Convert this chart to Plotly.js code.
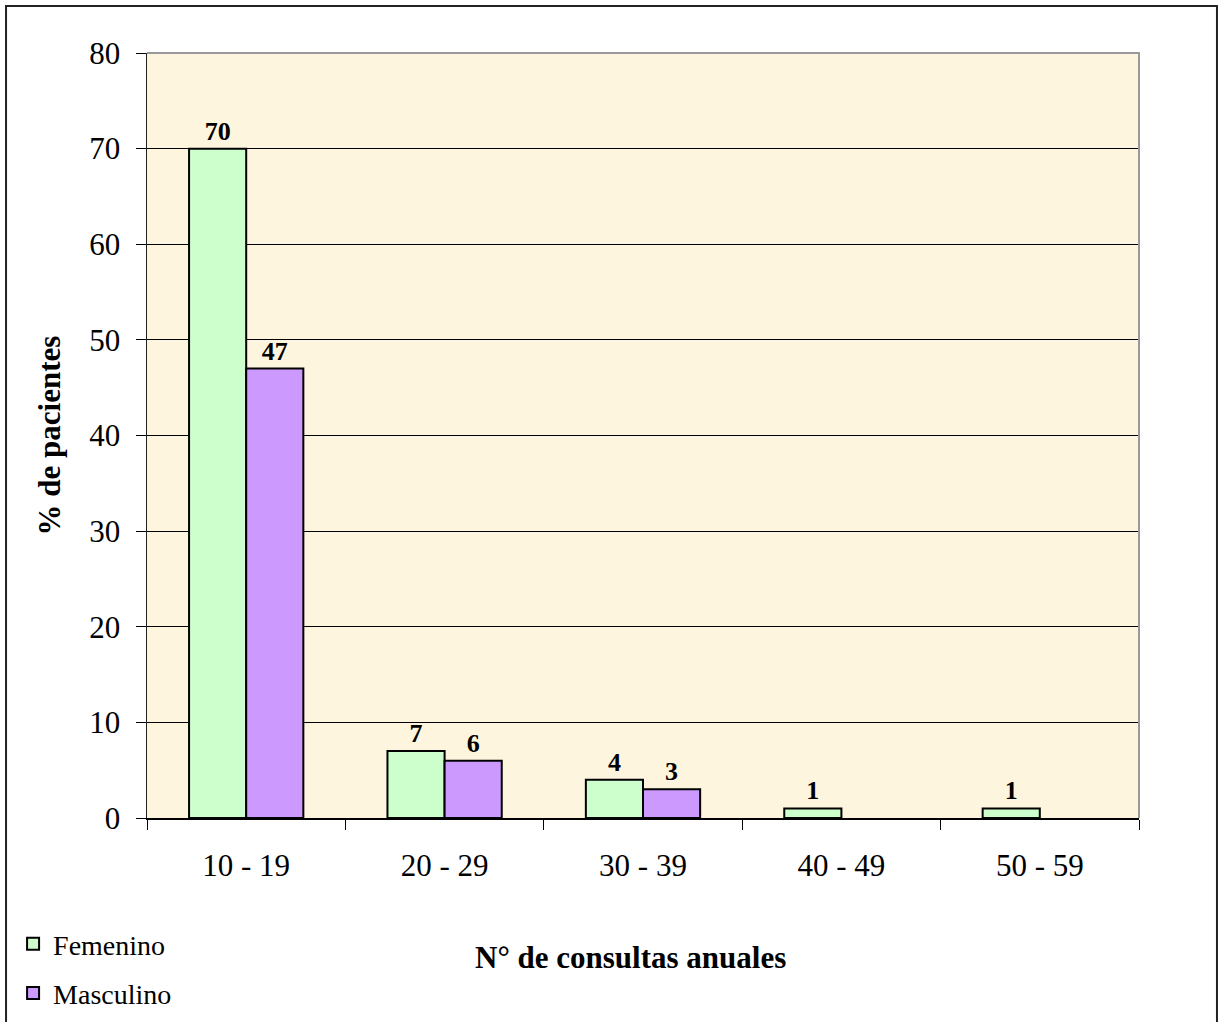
<!DOCTYPE html>
<html>
<head>
<meta charset="utf-8">
<script src="https://cdn.plot.ly/plotly-3.0.1.min.js"></script>
<style>
  html, body { margin: 0; padding: 0; background: #ffffff; }
  #chart { width: 1220px; height: 1022px; }
</style>
</head>
<body>
<div id="chart"></div>
<script>
// Annual consultation ranges
const categories = ['10 - 19', '20 - 29', '30 - 39', '40 - 49', '50 - 59'];
// % of patients by sex
const femenino = [70, 7, 4, 1, 1];
const masculino = [47, 6, 3, null, null];
const yTicks = [0, 10, 20, 30, 40, 50, 60, 70, 80];

const serif = '"Liberation Serif", "Times New Roman", serif';

function labels(vals) {
  return vals.map(v => (v === null ? '' : String(v)));
}

const traces = [
  {
    type: 'bar',
    name: 'Femenino',
    x: categories,
    y: femenino,
    text: labels(femenino),
    textposition: 'outside',
    cliponaxis: false,
    textfont: { family: serif, size: 26, color: '#000000', weight: 'bold' },
    marker: { color: '#ccffcc', line: { color: '#000000', width: 2 } },
    legendgroup: 'f',
    hoverinfo: 'x+y'
  },
  {
    type: 'bar',
    name: 'Masculino',
    x: categories,
    y: masculino,
    text: labels(masculino),
    textposition: 'outside',
    cliponaxis: false,
    textfont: { family: serif, size: 26, color: '#000000', weight: 'bold' },
    marker: { color: '#cc99ff', line: { color: '#000000', width: 2 } },
    legendgroup: 'm',
    hoverinfo: 'x+y'
  }
];

const layout = {
  width: 1220,
  height: 1022,
  margin: { l: 147, r: 81, t: 53, b: 204, autoexpand: false },
  paper_bgcolor: '#ffffff',
  plot_bgcolor: '#fef5df',
  font: { family: serif, color: '#000000' },
  barmode: 'group',
  bargap: 0.424,
  bargroupgap: 0,
  xaxis: {
    type: 'category',
    tickson: 'boundaries',
    ticks: 'outside',
    ticklen: 10,
    tickwidth: 1,
    tickcolor: '#000000',
    showline: true,
    linecolor: '#000000',
    linewidth: 1.5,
    showgrid: false,
    tickfont: { family: serif, size: 31, color: '#000000' },
    ticklabelstandoff: 19,
    automargin: false,
    fixedrange: true
  },
  yaxis: {
    range: [0, 80],
    tickvals: yTicks,
    ticktext: yTicks.map(String),
    ticks: 'outside',
    ticklen: 10,
    tickwidth: 1,
    tickcolor: '#000000',
    showline: true,
    linecolor: '#222222',
    linewidth: 1.5,
    showgrid: true,
    gridcolor: '#000000',
    gridwidth: 1,
    zeroline: false,
    tickfont: { family: serif, size: 31, color: '#000000' },
    ticklabelstandoff: 9,
    automargin: false,
    fixedrange: true
  },
  showlegend: true,
  legend: {
    x: -0.135,
    y: -0.132,
    xanchor: 'left',
    yanchor: 'top',
    orientation: 'v',
    traceorder: 'grouped',
    tracegroupgap: 10,
    bgcolor: 'rgba(0,0,0,0)',
    font: { family: serif, size: 28, color: '#000000' },
    itemwidth: 30
  },
  annotations: [
    {
      text: 'N° de consultas anuales',
      xref: 'paper', yref: 'paper',
      x: 0.487, y: -0.183,
      xanchor: 'center', yanchor: 'middle',
      showarrow: false,
      font: { family: serif, size: 31, color: '#000000', weight: 'bold' }
    },
    {
      text: '% de pacientes',
      xref: 'paper', yref: 'paper',
      x: -0.0978, y: 0.5,
      xanchor: 'center', yanchor: 'middle',
      textangle: -90,
      showarrow: false,
      font: { family: serif, size: 31, color: '#000000', weight: 'bold' }
    }
  ],
  shapes: [
    // grey edge along the top and right of the plotting area
    {
      type: 'path', xref: 'paper', yref: 'paper',
      path: 'M 0 1 L 1 1 L 1 0',
      line: { color: '#999999', width: 2 }
    },
    // outer frame around the whole chart
    {
      type: 'rect', xref: 'paper', yref: 'paper',
      x0: -0.1421, x1: 1.0786, y0: -0.275, y1: 1.0614,
      line: { color: '#222222', width: 2 },
      fillcolor: 'rgba(0,0,0,0)', layer: 'below'
    }
  ]
};

Plotly.newPlot('chart', traces, layout, { displayModeBar: false, staticPlot: true });
</script>
</body>
</html>
